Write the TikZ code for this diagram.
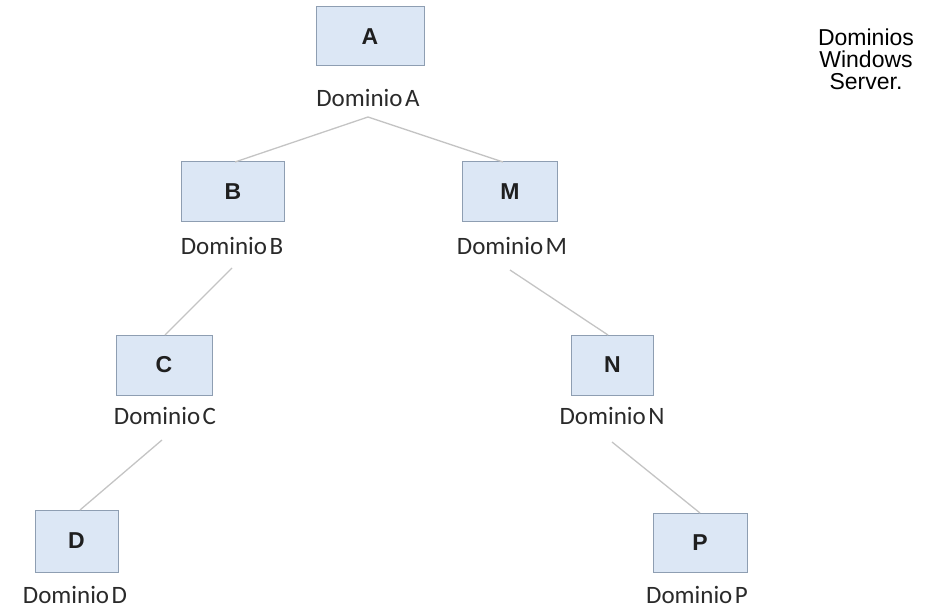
\documentclass[tikz,border=0pt]{standalone}
\usepackage{fontspec}
\setmainfont{Carlito}
\newfontfamily\arialfont{Liberation Sans}
\definecolor{boxfill}{HTML}{DCE7F5}
\definecolor{boxline}{HTML}{8E9EB2}
\definecolor{conn}{HTML}{C4C4C4}
\definecolor{lbl}{HTML}{2A2A2A}
\tikzset{
  dombox/.style={draw=boxline, fill=boxfill, line width=1pt, inner sep=0pt,
    font=\arialfont\fontsize{23}{24}\selectfont\bfseries, text=black!88},
  domlabel/.style={inner sep=0pt, font=\fontsize{25}{26}\selectfont, text=lbl},
  link/.style={draw=conn, line width=1.3pt}
}
\newcommand{\dom}[1]{Dominio\hspace{2.5pt}#1}
\begin{document}
\begin{tikzpicture}[x=1pt,y=-1pt]
\useasboundingbox (0,0) rectangle (928,609);
% boxes
\node[dombox, minimum width=108pt, minimum height=59pt] (A) at (370,36.5) {A};
\node[dombox, minimum width=103pt, minimum height=60pt] (B) at (233,192) {B};
\node[dombox, minimum width=95pt, minimum height=60pt] (M) at (510,192) {M};
\node[dombox, minimum width=96pt, minimum height=60pt] (C) at (164,365) {C};
\node[dombox, minimum width=82pt, minimum height=60pt] (N) at (612.5,365) {N};
\node[dombox, minimum width=83pt, minimum height=62pt] (D) at (76.5,541) {D};
\node[dombox, minimum width=94pt, minimum height=59pt] (P) at (700,542.5) {P};
% labels
\node[domlabel] (lA) at (368,98) {\dom{A}};
\node[domlabel] (lB) at (232,246) {\dom{B}};
\node[domlabel] (lM) at (512,246) {\dom{M}};
\node[domlabel] (lC) at (165,416) {\dom{C}};
\node[domlabel] (lN) at (612,416) {\dom{N}};
\node[domlabel] (lD) at (75,595) {\dom{D}};
\node[domlabel] (lP) at (697,595) {\dom{P}};
% connector points
\coordinate (apexA) at (368,117);
\coordinate (topB) at (235,162);
\coordinate (topM) at (503,162);
\coordinate (outB) at (232,268);
\coordinate (topC) at (165,335);
\coordinate (outM) at (510,270);
\coordinate (topN) at (608,335);
\coordinate (outC) at (162,440);
\coordinate (topD) at (80,510);
\coordinate (outN) at (612,442);
\coordinate (topP) at (700,513);
\draw[link] (apexA) -- (topB);
\draw[link] (apexA) -- (topM);
\draw[link] (outB) -- (topC);
\draw[link] (outM) -- (topN);
\draw[link] (outC) -- (topD);
\draw[link] (outN) -- (topP);
% side title
\node[align=center, inner sep=0pt, font=\arialfont\fontsize{23}{22}\selectfont] (title) at (866,59) {Dominios\\Windows\\Server.};
\end{tikzpicture}
\end{document}
